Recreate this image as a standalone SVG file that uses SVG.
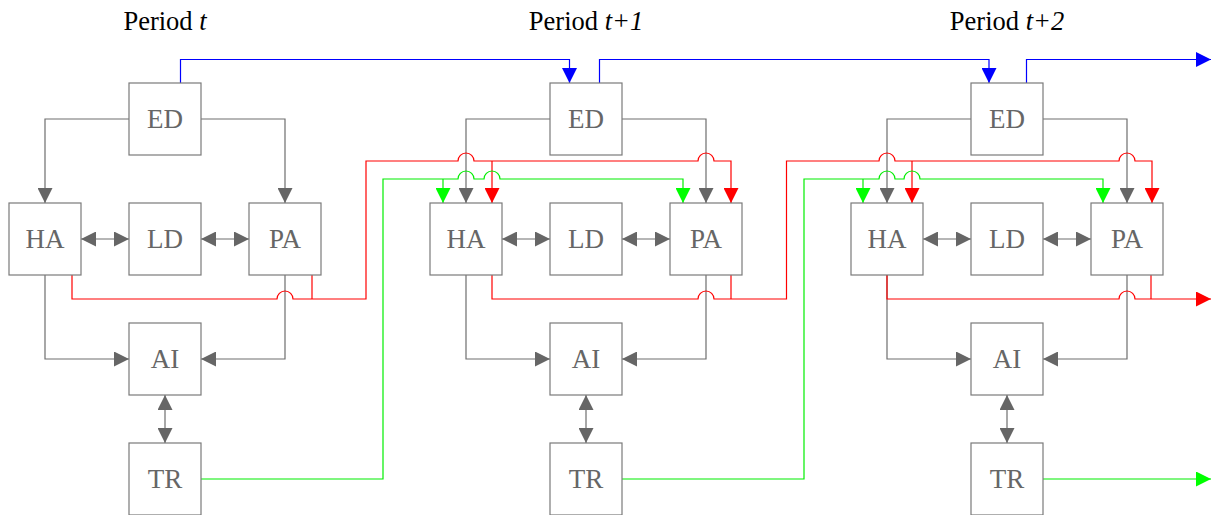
<svg xmlns="http://www.w3.org/2000/svg" width="1211" height="515" viewBox="0 0 1211 515">
<style>
.box{fill:#fff;stroke:#7a7a7a;stroke-width:1.2}
.lbl{font-family:"Liberation Serif","Times New Roman",serif;font-size:27px;fill:#666;text-anchor:middle}
.ttl{font-family:"Liberation Serif","Times New Roman",serif;font-size:26.5px;fill:#000;text-anchor:middle}
.g{fill:none;stroke:#6e6e6e;stroke-width:1.2}
.r{fill:none;stroke:#ff0000;stroke-width:1.2}
.gr{fill:none;stroke:#00ee00;stroke-width:1.2}
.b{fill:none;stroke:#0000ff;stroke-width:1.2}
.ge{marker-end:url(#ag)}
.gd{marker-end:url(#ag);marker-start:url(#ag)}
.re{marker-end:url(#ar)}
.gre{marker-end:url(#agr)}
.be{marker-end:url(#ab)}
</style>
<defs>
<marker id="ag" markerUnits="userSpaceOnUse" markerWidth="15" markerHeight="15" refX="14" refY="7" orient="auto-start-reverse" viewBox="0 0 14 14"><path d="M0,0 L14,7 L0,14 z" fill="#666"/></marker>
<marker id="ar" markerUnits="userSpaceOnUse" markerWidth="15" markerHeight="15" refX="14" refY="7" orient="auto" viewBox="0 0 14 14"><path d="M0,0 L14,7 L0,14 z" fill="#ff0000"/></marker>
<marker id="agr" markerUnits="userSpaceOnUse" markerWidth="15" markerHeight="15" refX="14" refY="7" orient="auto" viewBox="0 0 14 14"><path d="M0,0 L14,7 L0,14 z" fill="#00ff00"/></marker>
<marker id="ab" markerUnits="userSpaceOnUse" markerWidth="15" markerHeight="15" refX="14" refY="7" orient="auto" viewBox="0 0 14 14"><path d="M0,0 L14,7 L0,14 z" fill="#0000ff"/></marker>
</defs>
<g id="titles">
<text class="ttl" x="165" y="30">Period <tspan font-style="italic">t</tspan></text>
<text class="ttl" x="586" y="30">Period <tspan font-style="italic">t+1</tspan></text>
<text class="ttl" x="1007" y="30">Period <tspan font-style="italic">t+2</tspan></text>
</g>
<g id="connectors">
<path class="g ge" d="M129,119 H45 V203"/>
<path class="g ge" d="M201,119 H285 V203"/>
<path class="g gd" d="M81,239 H129"/>
<path class="g gd" d="M201,239 H249"/>
<path class="g ge" d="M45,275 V359 H129"/>
<path class="g ge" d="M285,275 V359 H201"/>
<path class="g gd" d="M165,395 V443"/>
<path class="g ge" d="M550,119 H466 V203"/>
<path class="g ge" d="M622,119 H706 V203"/>
<path class="g gd" d="M502,239 H550"/>
<path class="g gd" d="M622,239 H670"/>
<path class="g ge" d="M466,275 V359 H550"/>
<path class="g ge" d="M706,275 V359 H622"/>
<path class="g gd" d="M586,395 V443"/>
<path class="g ge" d="M971,119 H887 V203"/>
<path class="g ge" d="M1043,119 H1127 V203"/>
<path class="g gd" d="M923,239 H971"/>
<path class="g gd" d="M1043,239 H1091"/>
<path class="g ge" d="M887,275 V359 H971"/>
<path class="g ge" d="M1127,275 V359 H1043"/>
<path class="g gd" d="M1007,395 V443"/>
<path class="b be" d="M180.5,83 V59.5 H569.5 V83"/>
<path class="b be" d="M599.5,83 V59.5 H989 V83"/>
<path class="b be" d="M1026.5,83 V59.5 H1211"/>
<path class="r re" d="M72,275 V299 H277 A8,8 0 0 1 293,299 H366 V161 H458 A8,8 0 0 1 474,161 H698 A8,8 0 0 1 714,161 H731 V203"/>
<path class="r" d="M312,275 V299"/>
<path class="r re" d="M492,161 V203"/>
<path class="r re" d="M492,275 V299 H698 A8,8 0 0 1 714,299 H786.5 V161 H879 A8,8 0 0 1 895,161 H1119 A8,8 0 0 1 1135,161 H1152 V203"/>
<path class="r" d="M731,275 V299"/>
<path class="r re" d="M912,161 V203"/>
<path class="r re" d="M887,275 V299 H1119 A8,8 0 0 1 1135,299 H1211"/>
<path class="r" d="M1151,275 V299"/>
<path class="gr gre" d="M201,479 H383 V179 H458 A8,8 0 0 1 474,179 H484 A8,8 0 0 1 500,179 H683 V203"/>
<path class="gr gre" d="M443,179 V203"/>
<path class="gr gre" d="M622,479 H804 V179 H879 A8,8 0 0 1 895,179 H904 A8,8 0 0 1 920,179 H1103 V203"/>
<path class="gr gre" d="M863,179 V203"/>
<path class="gr gre" d="M1043,479 H1211"/>
</g>
<g id="node-ED-t"><rect class="box" x="129" y="83" width="72" height="72"/><text class="lbl" x="165" y="128">ED</text></g>
<g id="node-HA-t"><rect class="box" x="9" y="203" width="72" height="72"/><text class="lbl" x="45" y="248">HA</text></g>
<g id="node-LD-t"><rect class="box" x="129" y="203" width="72" height="72"/><text class="lbl" x="165" y="248">LD</text></g>
<g id="node-PA-t"><rect class="box" x="249" y="203" width="72" height="72"/><text class="lbl" x="285" y="248">PA</text></g>
<g id="node-AI-t"><rect class="box" x="129" y="323" width="72" height="72"/><text class="lbl" x="165" y="368">AI</text></g>
<g id="node-TR-t"><rect class="box" x="129" y="443" width="72" height="72"/><text class="lbl" x="165" y="488">TR</text></g>
<g id="node-ED-t1"><rect class="box" x="550" y="83" width="72" height="72"/><text class="lbl" x="586" y="128">ED</text></g>
<g id="node-HA-t1"><rect class="box" x="430" y="203" width="72" height="72"/><text class="lbl" x="466" y="248">HA</text></g>
<g id="node-LD-t1"><rect class="box" x="550" y="203" width="72" height="72"/><text class="lbl" x="586" y="248">LD</text></g>
<g id="node-PA-t1"><rect class="box" x="670" y="203" width="72" height="72"/><text class="lbl" x="706" y="248">PA</text></g>
<g id="node-AI-t1"><rect class="box" x="550" y="323" width="72" height="72"/><text class="lbl" x="586" y="368">AI</text></g>
<g id="node-TR-t1"><rect class="box" x="550" y="443" width="72" height="72"/><text class="lbl" x="586" y="488">TR</text></g>
<g id="node-ED-t2"><rect class="box" x="971" y="83" width="72" height="72"/><text class="lbl" x="1007" y="128">ED</text></g>
<g id="node-HA-t2"><rect class="box" x="851" y="203" width="72" height="72"/><text class="lbl" x="887" y="248">HA</text></g>
<g id="node-LD-t2"><rect class="box" x="971" y="203" width="72" height="72"/><text class="lbl" x="1007" y="248">LD</text></g>
<g id="node-PA-t2"><rect class="box" x="1091" y="203" width="72" height="72"/><text class="lbl" x="1127" y="248">PA</text></g>
<g id="node-AI-t2"><rect class="box" x="971" y="323" width="72" height="72"/><text class="lbl" x="1007" y="368">AI</text></g>
<g id="node-TR-t2"><rect class="box" x="971" y="443" width="72" height="72"/><text class="lbl" x="1007" y="488">TR</text></g>
</svg>
